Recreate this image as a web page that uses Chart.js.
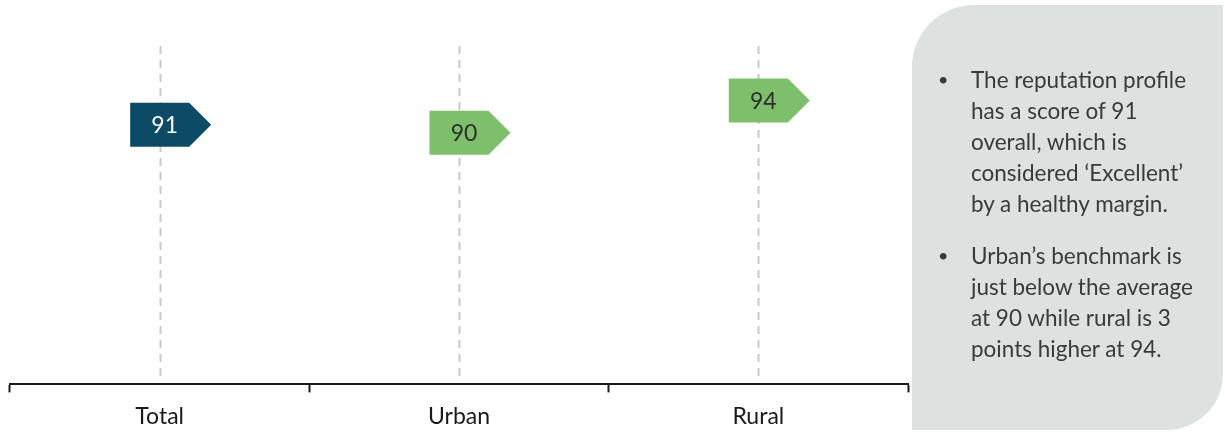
<!DOCTYPE html>
<html>
<head>
<meta charset="utf-8">
<script src="https://cdn.jsdelivr.net/npm/chart.js@4.4.1/dist/chart.umd.min.js"></script>
<style>
  html, body { margin: 0; padding: 0; background: #ffffff; }
  #wrap { position: relative; width: 1225px; height: 433px; overflow: hidden; }
  #chart { position: absolute; left: 0; top: 0; }
  .panel {
    position: absolute; left: 912px; top: 5px; width: 311px; height: 425px;
    background: #dde2e0;
    border-radius: 62px 0 56px 0;
    font-family: "Lato", "Open Sans", sans-serif;
    font-size: 22.5px; line-height: 31px; color: #3a3a3a;
  }
  .panel ul { list-style: none; margin: 0; padding: 0; position: absolute; left: 59px; top: 59px; width: 252px; white-space: nowrap; }
  .panel li { position: relative; margin-bottom: 21px; }
  .panel li::before { content: "\2022"; position: absolute; left: -33px; top: 0; font-size: 18px; }
</style>
</head>
<body>
<div id="wrap">
  <canvas id="chart" width="1225" height="433"></canvas>
  <div class="panel">
    <ul>
      <li>The reputation profile<br>has a score of 91<br>overall, which is<br>considered ‘Excellent’<br>by a healthy margin.</li>
      <li>Urban’s benchmark is<br>just below the average<br>at 90 while rural is 3<br>points higher at 94.</li>
    </ul>
  </div>
</div>
<script>
// Categories and scores
const categories = ["Total", "Urban", "Rural"];
const scores = [91, 90, 94];

// Marker styling per category
const markerFill = ["#0c4a66", "#7dbf6b", "#7dbf6b"];
const markerText = ["#ffffff", "#2e2e2e", "#2e2e2e"];

const FONT = "Lato, 'Open Sans', sans-serif";

// Dashed guide line behind each category
const guideLines = {
  id: "guideLines",
  beforeDatasetsDraw(chart) {
    const { ctx, chartArea, scales } = chart;
    ctx.save();
    ctx.strokeStyle = "#c9c9c9";
    ctx.lineWidth = 2;
    ctx.setLineDash([8, 6]);
    categories.forEach((c, i) => {
      const x = Math.round(scales.x.getPixelForValue(i)) + 0.5;
      ctx.beginPath();
      ctx.moveTo(x, chartArea.top + 42);
      ctx.lineTo(x, chartArea.bottom - 6);
      ctx.stroke();
    });
    ctx.restore();
  }
};

// Arrow-shaped score tags drawn at each point
const arrowTags = {
  id: "arrowTags",
  afterDatasetsDraw(chart) {
    const { ctx } = chart;
    const meta = chart.getDatasetMeta(0);
    const bodyW = 59, tipW = 22, h = 44;
    ctx.save();
    meta.data.forEach((pt, i) => {
      const cx = pt.x, cy = pt.y;
      const left = cx - bodyW / 2;
      const right = left + bodyW;
      ctx.fillStyle = markerFill[i];
      ctx.beginPath();
      ctx.moveTo(left, cy - h / 2);
      ctx.lineTo(right, cy - h / 2);
      ctx.lineTo(right + tipW, cy);
      ctx.lineTo(right, cy + h / 2);
      ctx.lineTo(left, cy + h / 2);
      ctx.closePath();
      ctx.fill();
      ctx.fillStyle = markerText[i];
      ctx.font = "23px " + FONT;
      ctx.textAlign = "center";
      ctx.textBaseline = "middle";
      ctx.fillText(String(scores[i]), cx + 5, cy + 1);
    });
    ctx.restore();
  }
};

new Chart(document.getElementById("chart"), {
  type: "line",
  data: {
    labels: categories,
    datasets: [{
      data: scores,
      showLine: false,
      pointRadius: 0,
      pointHoverRadius: 0
    }]
  },
  options: {
    responsive: false,
    animation: false,
    events: [],
    layout: { padding: { left: 10, right: 317, top: 4, bottom: -7 } },
    plugins: { legend: { display: false }, tooltip: { enabled: false } },
    scales: {
      x: {
        type: "category",
        offset: true,
        border: { display: true, color: "#1a1a1a", width: 2 },
        grid: {
          offset: true,
          drawOnChartArea: false,
          drawTicks: true,
          tickLength: 8,
          tickWidth: 2,
          tickColor: "#1a1a1a"
        },
        ticks: {
          color: "#1a1a1a",
          padding: 10,
          font: { family: FONT, size: 23 }
        }
      },
      y: {
        display: false,
        min: 58.75,
        max: 106
      }
    }
  },
  plugins: [guideLines, arrowTags]
});
</script>
</body>
</html>
